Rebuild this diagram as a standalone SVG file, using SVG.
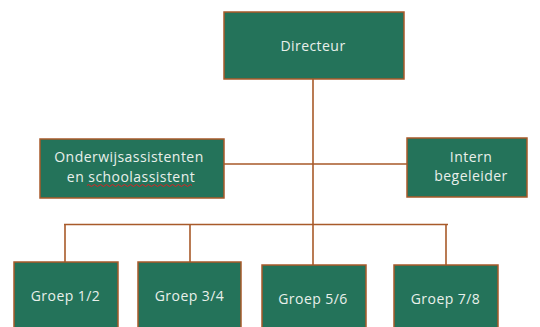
<svg xmlns="http://www.w3.org/2000/svg" width="540" height="327" viewBox="0 0 540 327">
<style>
.box{fill:#24735A;stroke:#A85A2A;stroke-width:1.5}
.lbl{font-family:"Open Sans",Lato,sans-serif;font-size:14px;letter-spacing:0.45px;fill:#E9F0EB;text-anchor:middle}
.con{stroke:#A85A2A;stroke-width:1.6;fill:none}
</style>
<rect width="540" height="327" fill="#fff"/>
<g id="connectors">
<path class="con" d="M313 79V225M224 164H407M64 224.5H448M65 224.5V262M190 224.5V262M313 224.5V265M446 224.5V265"/>
</g>
<g id="directeur"><rect class="box" x="224" y="12" width="180" height="67"/><text class="lbl" x="313" y="50.5">Directeur</text></g>
<g id="onderwijsassistenten"><rect class="box" x="40" y="139" width="184" height="59"/><text class="lbl" x="129" y="162">Onderwijsassistenten</text><text class="lbl" x="131" y="182">en schoolassistent</text>
<path d="M87 185.5q1.5-2 3 0t3 0t3 0t3 0t3 0t3 0t3 0t3 0t3 0t3 0t3 0t3 0t3 0t3 0t3 0t3 0t3 0t3 0t3 0t3 0t3 0t3 0t3 0t3 0t3 0t3 0t3 0t3 0t3 0t3 0t3 0t3 0t3 0t3 0t3 0t3" fill="none" stroke="#D22" stroke-width="1"/></g>
<g id="intern"><rect class="box" x="407" y="138" width="120" height="59"/><text class="lbl" x="471" y="162">Intern</text><text class="lbl" x="471" y="181">begeleider</text></g>
<g id="groep12"><rect class="box" x="14" y="262" width="104" height="70"/><text class="lbl" x="65.5" y="301">Groep 1/2</text></g>
<g id="groep34"><rect class="box" x="138" y="262" width="103" height="70"/><text class="lbl" x="189.5" y="301">Groep 3/4</text></g>
<g id="groep56"><rect class="box" x="262" y="265" width="104" height="70"/><text class="lbl" x="313" y="304">Groep 5/6</text></g>
<g id="groep78"><rect class="box" x="394" y="265" width="104" height="70"/><text class="lbl" x="445.5" y="304">Groep 7/8</text></g>
</svg>
